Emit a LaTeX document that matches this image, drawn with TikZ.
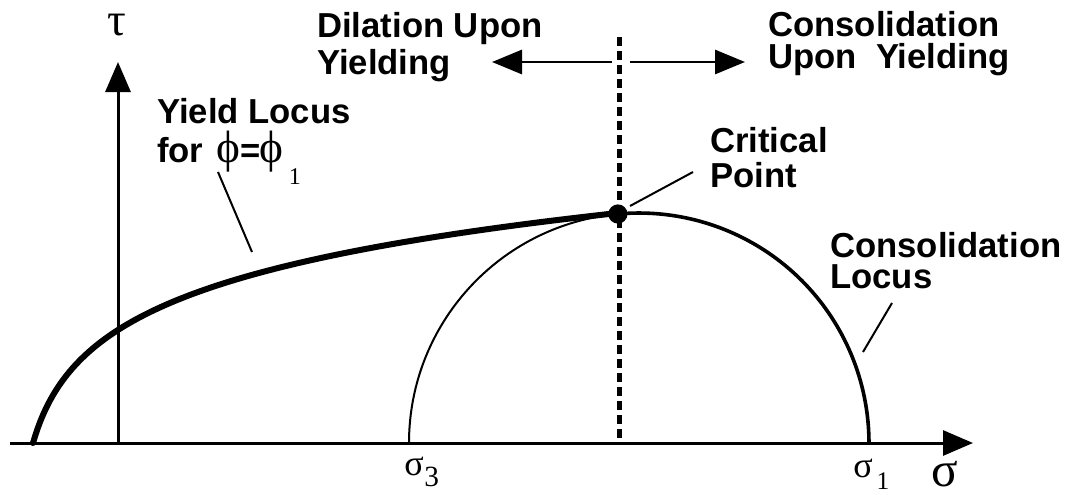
\documentclass[tikz,border=0pt]{standalone}
\usepackage{fontspec}
\setmainfont{Liberation Sans}
\newfontfamily\grk{Liberation Serif}
\usetikzlibrary{arrows.meta}
\begin{document}
\begin{tikzpicture}[x=0.75pt,y=-0.75pt,
  lbl/.style={font=\fontsize{26}{30}\selectfont\bfseries, anchor=base west, inner sep=0pt},
  grklbl/.style={font=\fontsize{27}{28}\grk, inner sep=0pt, anchor=base west},
  axis/.style={line width=2.25pt, -{Triangle[length=22.5pt,width=18.75pt]}},
  dirarrow/.style={line width=2.2pt, -{Triangle[length=22.5pt,width=18pt]}},
  dashline/.style={line width=3.75pt, dash pattern=on 6.5pt off 4pt},
  leader/.style={line width=1.5pt},
  yieldcurve/.style={line width=4.5pt, line cap=round},
  thinarc/.style={line width=1.5pt},
  thickarc/.style={line width=2.7pt}]
\useasboundingbox (0,0) rectangle (1065,494);

% key points
\coordinate (O) at (639,443);
\coordinate (s3) at (409,443);
\coordinate (s1) at (869,443);
\coordinate (cp) at (617.9,214.0);
\coordinate (ystart) at (33,443);
\coordinate (xstart) at (10,443);
\coordinate (xtip) at (973,443);
\coordinate (ybase) at (118,443);
\coordinate (ytip) at (118,62);
\coordinate (dtop) at (619,37);
\coordinate (dbot) at (619,443);
\coordinate (lstart) at (612,62);
\coordinate (ltip) at (492,62);
\coordinate (rstart) at (630,62);
\coordinate (rtip) at (745,62);

% axes
\draw[axis] (xstart) -- (xtip);
\draw[axis] (ybase) -- (ytip);

% Mohr circle
\draw[thinarc] (s3) arc[start angle=180, end angle=95.26, radius=172.5pt];
\draw[thickarc] (cp) arc[start angle=95.26, end angle=0, radius=172.5pt];

% yield locus
\draw[yieldcurve] (ystart) -- plot[domain=0:584.9, samples=240, variable=\t]
  ({33+\t},{443-66.5*ln(1+\t/19)}) -- (cp);

% dashed critical line
\draw[dashline] (dtop) -- (dbot);

% direction arrows
\draw[dirarrow] (lstart) -- (ltip);
\draw[dirarrow] (rstart) -- (rtip);

% critical point
\fill (cp) circle[radius=7.2pt];

% labels
\node[font=\fontsize{35}{35}\grk, inner sep=0pt] (tau) at (117,25) {τ};
\node[font=\fontsize{37}{37}\grk, inner sep=0pt, anchor=base] (sig) at (945,486) {σ};
\node[grklbl] (sig3) at (404,475) {σ\kern0.5pt\raisebox{-8.5pt}{\fontsize{22}{22}\selectfont 3}};
\node[grklbl] (sig1) at (853,477) {σ\kern3pt\raisebox{-9.5pt}{\fontsize{19}{19}\selectfont 1}};

\node[lbl] (dil1) at (317,37) {Dilation Upon};
\node[lbl] (dil2) at (317,74) {Yielding};
\node[lbl] (con1) at (768,36) {Consolidation};
\node[lbl] (con2) at (768,68) {Upon\ \ Yielding};
\node[lbl] (yl1) at (157,123) {Yield Locus};
\node[lbl] (yl2) at (157,162) {for\hspace{10pt}{\fontsize{34}{30}\grk\mdseries ϕ}\kern-0.5pt=\kern-0.5pt{\fontsize{34}{30}\grk\mdseries ϕ}\hspace{4pt}\raisebox{-17pt}{\fontsize{18}{18}\grk\mdseries 1}};
\node[lbl] (cp1) at (710,152) {Critical};
\node[lbl] (cp2) at (710,187) {Point};
\node[lbl] (cl1) at (830,257) {Consolidation};
\node[lbl] (cl2) at (830,288) {Locus};

% leader lines
\coordinate (ylA) at (218,172);
\coordinate (ylB) at (252,252);
\draw[leader] (ylA) -- (ylB);
\coordinate (cpA) at (693,172);
\coordinate (cpB) at (630,206);
\draw[leader] (cpA) -- (cpB);
\coordinate (clA) at (892,303);
\coordinate (clB) at (863,352);
\draw[leader] (clA) -- (clB);
\end{tikzpicture}
\end{document}
